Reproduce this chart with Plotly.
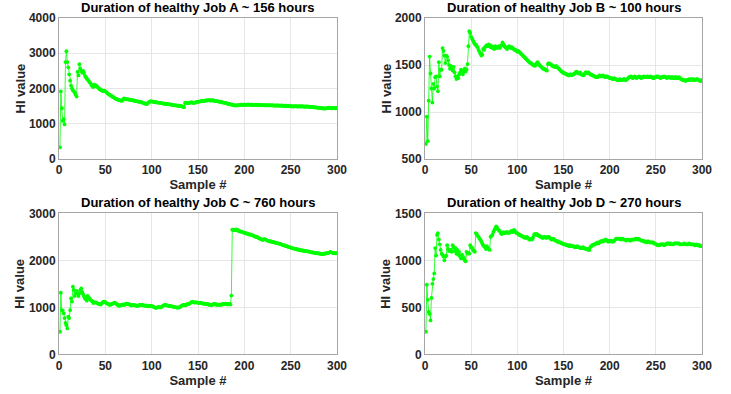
import plotly.graph_objects as go

samples = list(range(1, 301))

job_a = [
    330, 1920, 1440, 1080, 1130, 980, 2750, 3060, 2750, 2600,
    2400, 2220, 2080, 2000, 1950, 1920, 1880, 1820, 1770, 2470,
    2370, 2690, 2560, 2500, 2450, 2500, 2440, 2360, 2320, 2280,
    2250, 2220, 2180, 2150, 2100, 2060, 2040, 2110, 2080, 2090,
    2060, 2030, 2000, 1980, 1960, 1950, 1930, 1920, 1940, 1920,
    1900, 1870, 1850, 1830, 1820, 1800, 1780, 1760, 1750, 1730,
    1710, 1700, 1690, 1680, 1670, 1660, 1660, 1650, 1680, 1720,
    1710, 1700, 1690, 1700, 1690, 1680, 1680, 1670, 1670, 1660,
    1660, 1650, 1640, 1640, 1630, 1630, 1620, 1620, 1610, 1600,
    1590, 1580, 1570, 1560, 1560, 1590, 1610, 1630, 1640, 1630,
    1630, 1620, 1620, 1610, 1610, 1600, 1600, 1600, 1590, 1590,
    1580, 1580, 1570, 1570, 1560, 1560, 1560, 1550, 1550, 1550,
    1540, 1540, 1530, 1530, 1520, 1520, 1520, 1510, 1510, 1510,
    1500, 1500, 1490, 1480, 1470, 1590, 1600, 1590, 1580, 1590,
    1600, 1600, 1610, 1600, 1590, 1590, 1600, 1610, 1620, 1620,
    1630, 1630, 1640, 1650, 1650, 1640, 1650, 1660, 1660, 1660,
    1670, 1670, 1660, 1660, 1670, 1660, 1660, 1650, 1650, 1640,
    1640, 1630, 1630, 1620, 1610, 1610, 1600, 1600, 1590, 1590,
    1580, 1570, 1560, 1560, 1550, 1540, 1540, 1530, 1520, 1520,
    1520, 1520, 1530, 1530, 1530, 1540, 1540, 1530, 1540, 1540,
    1540, 1530, 1540, 1550, 1540, 1540, 1530, 1540, 1540, 1530,
    1530, 1540, 1540, 1530, 1530, 1540, 1530, 1530, 1530, 1530,
    1530, 1520, 1530, 1530, 1520, 1520, 1530, 1520, 1520, 1530,
    1520, 1510, 1520, 1520, 1510, 1520, 1520, 1510, 1510, 1520,
    1510, 1510, 1500, 1510, 1510, 1500, 1500, 1510, 1500, 1500,
    1490, 1500, 1490, 1490, 1500, 1500, 1490, 1490, 1500, 1490,
    1490, 1500, 1490, 1490, 1480, 1490, 1490, 1480, 1490, 1480,
    1480, 1470, 1480, 1470, 1470, 1460, 1470, 1460, 1460, 1450,
    1450, 1450, 1440, 1440, 1440, 1430, 1430, 1440, 1440, 1450,
    1460, 1450, 1450, 1440, 1440, 1450, 1450, 1440, 1440, 1450,
]

job_b = [
    660, 950, 690, 1120, 1590, 1410, 1250, 1100, 1300, 1250,
    1370, 1380, 1270, 1220, 1530, 1380, 1450, 1450, 1680, 1650,
    1600, 1520, 1600, 1590, 1550, 1500, 1460, 1490, 1470, 1440,
    1480, 1420, 1380, 1350, 1380, 1360, 1400, 1420, 1450, 1440,
    1400, 1430, 1460, 1430, 1450, 1510, 1700, 1860, 1840, 1800,
    1780, 1760, 1740, 1720, 1720, 1700, 1690, 1660, 1640, 1620,
    1600, 1610, 1670, 1660, 1690, 1700, 1710, 1700, 1720, 1710,
    1690, 1700, 1680, 1690, 1670, 1700, 1690, 1680, 1690, 1700,
    1680, 1700, 1710, 1740, 1720, 1700, 1690, 1680, 1670, 1690,
    1700, 1690, 1680, 1690, 1680, 1670, 1660, 1660, 1650, 1640,
    1650, 1640, 1630, 1620, 1610, 1600, 1590, 1580, 1570, 1560,
    1550, 1540, 1530, 1520, 1520, 1510, 1500, 1500, 1490, 1500,
    1520, 1530, 1510, 1500, 1490, 1480, 1470, 1460, 1460, 1450,
    1450, 1440, 1510, 1520, 1510, 1510, 1500, 1490, 1490, 1480,
    1480, 1490, 1480, 1470, 1460, 1450, 1440, 1430, 1420, 1420,
    1410, 1410, 1400, 1400, 1390, 1390, 1400, 1400, 1390, 1400,
    1400, 1410, 1420, 1430, 1420, 1410, 1410, 1420, 1400, 1400,
    1390, 1390, 1410, 1420, 1420, 1410, 1420, 1410, 1400, 1400,
    1390, 1390, 1380, 1380, 1370, 1370, 1370, 1380, 1390, 1380,
    1380, 1380, 1390, 1380, 1370, 1380, 1380, 1370, 1370, 1360,
    1360, 1360, 1350, 1350, 1360, 1350, 1350, 1340, 1340, 1340,
    1350, 1340, 1340, 1340, 1350, 1350, 1340, 1340, 1350, 1360,
    1370, 1370, 1380, 1370, 1360, 1370, 1380, 1370, 1360, 1370,
    1370, 1380, 1370, 1360, 1370, 1370, 1380, 1370, 1370, 1370,
    1380, 1370, 1370, 1380, 1370, 1370, 1360, 1360, 1370, 1370,
    1380, 1380, 1370, 1370, 1360, 1370, 1370, 1370, 1380, 1370,
    1370, 1360, 1370, 1370, 1370, 1360, 1370, 1370, 1360, 1360,
    1370, 1370, 1360, 1360, 1370, 1360, 1350, 1350, 1340, 1340,
    1340, 1330, 1340, 1340, 1340, 1350, 1340, 1350, 1350, 1340,
    1350, 1340, 1340, 1350, 1350, 1340, 1340, 1330, 1340, 1330,
]

job_c = [
    480, 1310, 940, 930, 870, 770, 670, 620, 550, 800,
    770, 940, 1190, 1120, 1440, 1370, 1240, 1300, 1350, 1300,
    1240, 1300, 1370, 1400, 1330, 1280, 1230, 1190, 1170, 1140,
    1240, 1210, 1190, 1160, 1140, 1130, 1090, 1100, 1110, 1100,
    1090, 1080, 1070, 1070, 1060, 1080, 1100, 1120, 1120, 1110,
    1090, 1080, 1070, 1060, 1050, 1060, 1070, 1080, 1090, 1100,
    1090, 1070, 1060, 1040, 1030, 1040, 1050, 1050, 1060, 1050,
    1060, 1070, 1080, 1070, 1070, 1060, 1050, 1040, 1040, 1050,
    1050, 1040, 1040, 1030, 1030, 1040, 1050, 1050, 1040, 1050,
    1040, 1040, 1030, 1040, 1030, 1020, 1030, 1030, 1020, 1030,
    1020, 1010, 1000, 990, 990, 1000, 1000, 1010, 1000, 1000,
    1010, 1030, 1040, 1050, 1050, 1040, 1040, 1030, 1030, 1030,
    1020, 1020, 1010, 1010, 1010, 1000, 1000, 990, 1000, 1000,
    1010, 1030, 1040, 1050, 1050, 1040, 1050, 1060, 1070, 1070,
    1080, 1100, 1110, 1120, 1110, 1100, 1100, 1110, 1100, 1100,
    1090, 1090, 1100, 1090, 1080, 1080, 1080, 1070, 1070, 1070,
    1060, 1060, 1050, 1050, 1050, 1060, 1070, 1070, 1060, 1060,
    1050, 1050, 1060, 1050, 1060, 1060, 1070, 1070, 1070, 1080,
    1070, 1060, 1070, 1070, 1060, 1250, 2650, 2650, 2640, 2640,
    2660, 2650, 2640, 2620, 2620, 2610, 2610, 2600, 2590, 2590,
    2580, 2570, 2570, 2560, 2550, 2550, 2540, 2540, 2530, 2520,
    2510, 2500, 2500, 2490, 2480, 2470, 2460, 2450, 2440, 2430,
    2450, 2450, 2440, 2430, 2420, 2410, 2410, 2400, 2400, 2390,
    2390, 2380, 2380, 2370, 2370, 2360, 2360, 2350, 2350, 2340,
    2330, 2320, 2320, 2310, 2300, 2300, 2290, 2280, 2280, 2270,
    2260, 2260, 2250, 2250, 2240, 2240, 2230, 2230, 2220, 2220,
    2210, 2210, 2210, 2200, 2200, 2200, 2190, 2190, 2190, 2180,
    2180, 2170, 2170, 2170, 2160, 2160, 2160, 2150, 2150, 2150,
    2140, 2140, 2130, 2130, 2130, 2140, 2140, 2150, 2150, 2150,
    2160, 2170, 2180, 2170, 2160, 2160, 2150, 2150, 2150, 2150,
]

job_d = [
    240, 740, 580, 450, 430, 360, 600, 750, 800, 860,
    1130, 1050, 1270, 1290, 1220, 1170, 1110, 1070, 1060, 1040,
    1000, 1040, 1050, 1160, 1120, 1100, 1100, 1110, 1090, 1160,
    1140, 1100, 1130, 1070, 1110, 1060, 1090, 1040, 1020, 1060,
    1040, 1020, 1000, 990, 1090, 1070, 1080, 1070, 1160, 1140,
    1130, 1110, 1100, 1090, 1290, 1280, 1260, 1250, 1230, 1220,
    1200, 1180, 1160, 1150, 1140, 1120, 1150, 1130, 1120, 1110,
    1250, 1260, 1270, 1300, 1320, 1340, 1360, 1350, 1330, 1320,
    1310, 1290, 1280, 1290, 1300, 1290, 1290, 1300, 1300, 1290,
    1290, 1300, 1310, 1310, 1300, 1320, 1320, 1300, 1290, 1290,
    1280, 1270, 1270, 1260, 1260, 1250, 1250, 1240, 1240, 1250,
    1240, 1230, 1220, 1220, 1230, 1220, 1240, 1270, 1280, 1270,
    1280, 1270, 1260, 1260, 1250, 1250, 1240, 1240, 1250, 1250,
    1240, 1240, 1250, 1250, 1240, 1230, 1220, 1220, 1230, 1220,
    1210, 1210, 1200, 1200, 1190, 1190, 1190, 1180, 1180, 1170,
    1170, 1170, 1160, 1160, 1160, 1150, 1160, 1150, 1150, 1150,
    1150, 1140, 1140, 1140, 1150, 1140, 1140, 1130, 1130, 1130,
    1140, 1130, 1130, 1120, 1120, 1120, 1110, 1110, 1140, 1150,
    1160, 1160, 1170, 1170, 1180, 1180, 1190, 1180, 1190, 1200,
    1200, 1210, 1200, 1210, 1220, 1220, 1210, 1200, 1200, 1210,
    1210, 1200, 1200, 1200, 1210, 1220, 1230, 1230, 1230, 1230,
    1230, 1220, 1230, 1230, 1220, 1220, 1220, 1210, 1220, 1220,
    1220, 1210, 1210, 1220, 1220, 1220, 1220, 1230, 1230, 1220,
    1230, 1220, 1220, 1210, 1210, 1210, 1200, 1200, 1200, 1190,
    1200, 1200, 1190, 1190, 1190, 1190, 1190, 1180, 1180, 1170,
    1170, 1160, 1160, 1160, 1170, 1170, 1170, 1170, 1160, 1170,
    1170, 1180, 1180, 1180, 1170, 1180, 1170, 1170, 1170, 1180,
    1180, 1180, 1180, 1180, 1180, 1170, 1170, 1170, 1170, 1170,
    1180, 1170, 1170, 1170, 1170, 1180, 1170, 1170, 1170, 1170,
    1170, 1160, 1160, 1170, 1160, 1160, 1160, 1150, 1150, 1150,
]

titles = [
    "Duration of healthy Job A ~ 156 hours",
    "Duration of healthy Job B ~ 100 hours",
    "Duration of healthy Job C ~ 760 hours",
    "Duration of healthy Job D ~ 270 hours",
]
y_ranges = [[0, 4000], [500, 2000], [0, 3000], [0, 1500]]
y_dtick = [1000, 500, 1000, 500]
series = [job_a, job_b, job_c, job_d]

W, H = 731, 394
x_domains = [[59 / W, 337 / W], [425 / W, 702 / W]]
y_domains = [[1 - 159 / H, 1 - 18 / H], [1 - 354.3 / H, 1 - 213.3 / H]]
ytitle_x = [20 / W, 386 / W]

FONT = "Liberation Sans, Arial, sans-serif"
GREEN = "#00ff00"
TXT = "#262626"

fig = go.Figure()
layout = dict(
    width=W, height=H,
    margin=dict(l=0, r=0, t=0, b=0, autoexpand=False),
    paper_bgcolor="white", plot_bgcolor="white",
    showlegend=False,
    font=dict(family=FONT, color=TXT),
)
annotations = []
for i in range(4):
    r, c = divmod(i, 2)
    xa = "x" if i == 0 else f"x{i+1}"
    ya = "y" if i == 0 else f"y{i+1}"
    fig.add_trace(go.Scatter(
        x=samples, y=series[i], xaxis=xa, yaxis=ya,
        mode="lines+markers",
        line=dict(color=GREEN, width=0.8),
        marker=dict(color=GREEN, size=3.8, symbol="circle"),
        hoverinfo="skip",
    ))
    axis_common = dict(
        showline=True, linecolor="#a6a6a6", linewidth=1, mirror=True,
        showgrid=True, gridcolor="#e6e6e6", gridwidth=1,
        zeroline=False, ticks="", automargin=False,
        tickfont=dict(family=FONT, size=12, color=TXT, weight="bold"),
    )
    layout["xaxis" if i == 0 else f"xaxis{i+1}"] = dict(
        axis_common, domain=x_domains[c], range=[0, 300], dtick=50,
        anchor=ya,
        title=dict(text="<b>Sample #</b>", font=dict(family=FONT, size=13, color=TXT), standoff=1),
    )
    layout["yaxis" if i == 0 else f"yaxis{i+1}"] = dict(
        axis_common, domain=y_domains[r], range=y_ranges[i], dtick=y_dtick[i],
        anchor=xa, ticklabelstandoff=0,
    )
    xd = x_domains[c]
    yd = y_domains[r]
    annotations.append(dict(
        text=f"<b>{titles[i]}</b>", xref="paper", yref="paper",
        x=(xd[0] + xd[1]) / 2, y=yd[1], yanchor="bottom", xanchor="center",
        yshift=1, showarrow=False,
        font=dict(family=FONT, size=13, color="black"),
    ))
    annotations.append(dict(
        text="<b>HI value</b>", xref="paper", yref="paper",
        x=ytitle_x[c], y=(yd[0] + yd[1]) / 2, xanchor="center", yanchor="middle",
        textangle=-90, showarrow=False,
        font=dict(family=FONT, size=13, color=TXT),
    ))
layout["annotations"] = annotations
fig.update_layout(**layout)
fig.write_html(
    "out.html",
    config={"displayModeBar": False},
    post_script="document.body.style.margin='0';document.body.style.overflow='hidden';",
)
